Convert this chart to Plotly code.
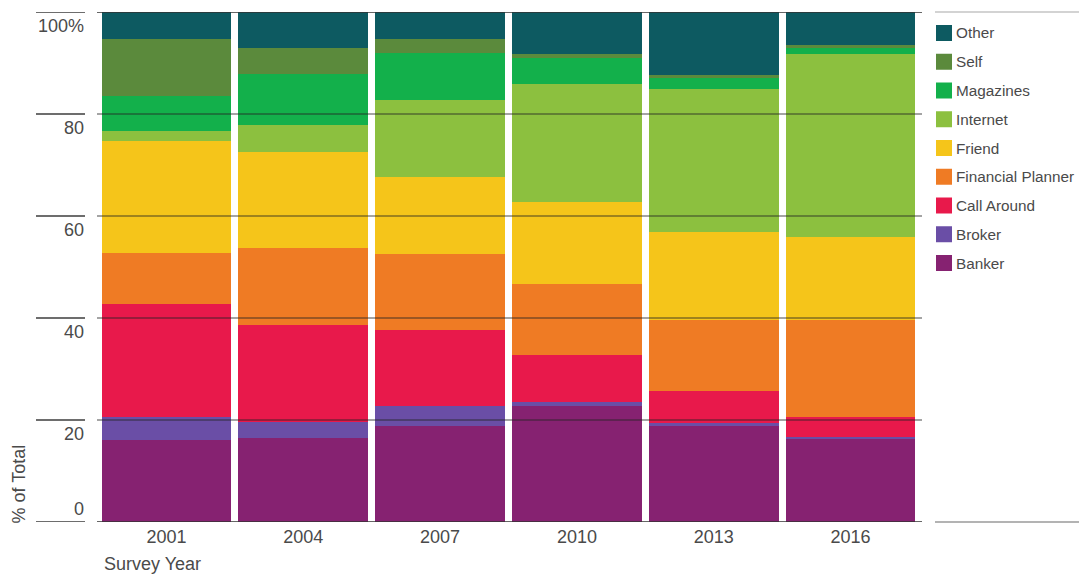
import plotly.graph_objects as go

# Survey years (x categories)
years = ["2001", "2004", "2007", "2010", "2013", "2016"]

# Share of respondents by information source, % of total (stacked bottom to top)
banker = [16.0, 16.5, 18.8, 22.7, 18.8, 16.2]
broker = [4.5, 3.2, 4.0, 0.8, 0.7, 0.5]
call_around = [22.3, 19.0, 14.8, 9.2, 6.1, 3.9]
financial_planner = [9.9, 15.0, 15.0, 14.0, 14.1, 19.1]
friend = [22.0, 18.8, 15.1, 16.0, 17.1, 16.2]
internet = [2.0, 5.3, 15.1, 23.2, 28.1, 35.8]
magazines = [6.9, 10.1, 9.1, 5.0, 2.1, 1.3]
self_source = [11.1, 5.0, 2.75, 0.9, 0.7, 0.5]
other = [5.3, 7.1, 5.35, 8.2, 12.3, 6.5]

series_names = ["Banker", "Broker", "Call Around", "Financial Planner", "Friend",
                "Internet", "Magazines", "Self", "Other"]
series_values = [banker, broker, call_around, financial_planner, friend,
                 internet, magazines, self_source, other]
series_colors = ["#862271", "#6a4ea6", "#e8194b", "#ef7b24", "#f5c51a",
                 "#8cc03f", "#13b04b", "#5b8a3c", "#0d5a61"]

y_ticks = [0, 20, 40, 60, 80, 100]
y_tick_labels = ["0", "20", "40", "60", "80", "100%"]

FONT = "Liberation Sans Narrow, Arial Narrow, Liberation Sans, Arial, sans-serif"
TEXT = "#4a4a4a"

W, H = 1079, 577
L, R, T, B = 98, 160, 12, 55
PW, PH = W - L - R, H - T - B


def px_x(px):
    return (px - L) / PW


def px_y(py):
    return (H - B - py) / PH


fig = go.Figure()
for name, vals, col in zip(series_names, series_values, series_colors):
    fig.add_trace(go.Bar(
        x=years, y=vals, name=name,
        marker=dict(color=col, line=dict(width=0)),
        showlegend=False,
    ))

shapes = []
annotations = []

# gridlines: short rule left of the plot plus a faint line across the bars
for v, lab in zip(y_ticks, y_tick_labels):
    shapes.append(dict(type="line", xref="paper", yref="y",
                       x0=px_x(36), x1=px_x(85), y0=v, y1=v,
                       line=dict(color="#3c3c3c", width=1.5), layer="above"))
    shapes.append(dict(type="line", xref="paper", yref="y",
                       x0=px_x(97), x1=px_x(922), y0=v, y1=v,
                       line=dict(color="rgba(35,35,35,0.55)" if v not in (0, 100) else "#333333",
                                 width=1.5), layer="above"))
    annotations.append(dict(
        xref="paper", yref="y", x=px_x(86), y=v, text=lab, showarrow=False,
        xanchor="right", yanchor="bottom" if v == 0 else "top",
        yshift=1 if v == 0 else -2,
        font=dict(family=FONT, size=18, color=TEXT)))

# rules framing the legend column
for py, col in ((12, "#c4c4c4"), (522, "#9a9a9a")):
    shapes.append(dict(type="line", xref="paper", yref="paper",
                       x0=px_x(935), x1=px_x(1079), y0=px_y(py), y1=px_y(py),
                       line=dict(color=col, width=1.5)))

# legend: top entry is the top of the stack
legend_y0, legend_step = 33, 28.75
for i, (name, col) in enumerate(zip(series_names[::-1], series_colors[::-1])):
    cy = legend_y0 + i * legend_step
    shapes.append(dict(type="rect", xref="paper", yref="paper",
                       x0=px_x(936), x1=px_x(952), y0=px_y(cy - 8), y1=px_y(cy + 8),
                       fillcolor=col, line=dict(width=0)))
    annotations.append(dict(
        xref="paper", yref="paper", x=px_x(954), y=px_y(cy), text=name,
        showarrow=False, xanchor="left", yanchor="middle",
        font=dict(family=FONT, size=15.3, color=TEXT)))

annotations.append(dict(
    xref="paper", yref="paper", x=px_x(102), y=px_y(564), text="Survey Year",
    showarrow=False, xanchor="left", yanchor="middle",
    font=dict(family=FONT, size=18, color=TEXT)))
annotations.append(dict(
    xref="paper", yref="paper", x=px_x(18), y=px_y(526), text="% of Total",
    showarrow=False, xanchor="center", yanchor="bottom", textangle=-90,
    font=dict(family=FONT, size=18, color=TEXT)))

fig.update_layout(
    width=W, height=H,
    margin=dict(l=L, r=R, t=T, b=B, pad=0),
    paper_bgcolor="white", plot_bgcolor="white",
    barmode="stack", bargap=0.053,
    showlegend=False,
    shapes=shapes, annotations=annotations,
    xaxis=dict(type="category", showgrid=False, zeroline=False, showline=False,
               ticks="", tickfont=dict(family=FONT, size=18, color=TEXT),
               ticklabelstandoff=2),
    yaxis=dict(range=[0, 100], showgrid=False, zeroline=False, showline=False,
               showticklabels=False, ticks=""),
)

fig.write_html("out.html")
